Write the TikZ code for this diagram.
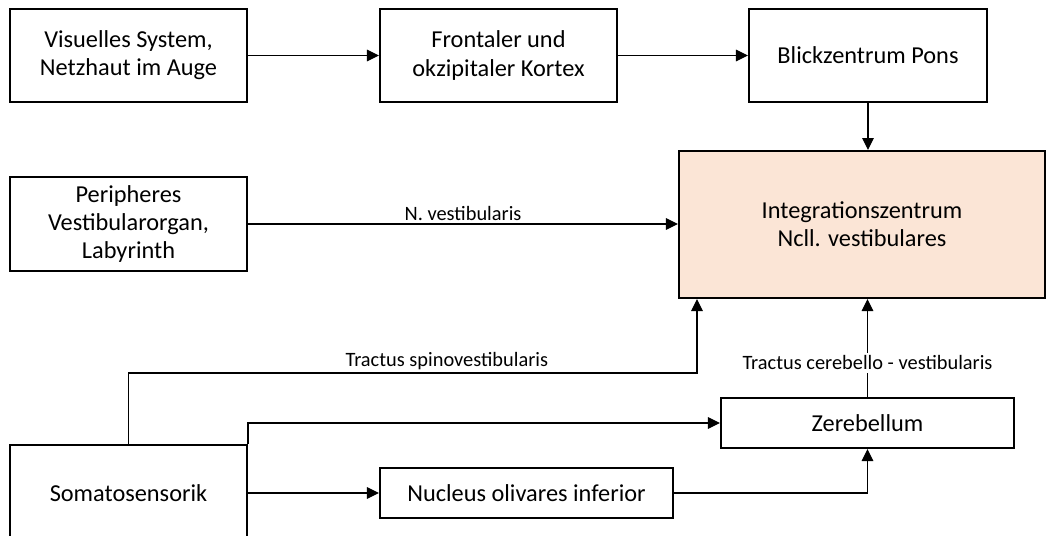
\documentclass[tikz,border=0pt]{standalone}
\usepackage{fontspec}
\setmainfont{Carlito}
\usetikzlibrary{arrows.meta}

\definecolor{peach}{HTML}{FBE5D6}

\begin{document}
\begin{tikzpicture}[x=0.025cm, y=-0.025cm,
        box/.style={draw, line width=1.4pt, align=center, inner sep=0pt,
            font=\fontsize{17.3}{20}\selectfont},
        conn/.style={line width=0.8pt, -{Triangle[length=3mm, width=2.9mm]}},
        lbl/.style={font=\fontsize{14.5}{17}\selectfont, inner sep=2pt}]
                \useasboundingbox (0,0) rectangle (1046,535);
                \clip (0,0) rectangle (1046,535);

                % Top row
                \node[box, minimum width=5.925cm, minimum height=2.325cm] (visual) at (128.5,55.5) {Visuelles System,\\Netzhaut im Auge};
                \node[box, minimum width=5.925cm, minimum height=2.325cm] (cortex) at (498.5,55.5) {Frontaler und\\okzipitaler Kortex};
                \node[box, minimum width=5.95cm, minimum height=2.325cm] (pons) at (868,55.5) {Blickzentrum Pons};

                % Integration centre
                \node[box, fill=peach, minimum width=9.15cm, minimum height=3.675cm] (integ) at (862,224.5) {Integrationszentrum\\Ncll. vestibulares};

                % Left column
                \node[box, minimum width=5.925cm, minimum height=2.35cm] (periph) at (128.5,224) {Peripheres\\Vestibularorgan,\\Labyrinth};
                \node[box, minimum width=5.925cm, minimum height=2.4cm] (soma) at (128.5,493) {Somatosensorik};

                % Bottom row
                \node[box, minimum width=7.325cm, minimum height=1.25cm] (olive) at (526.5,493) {Nucleus olivares inferior};
                \node[box, minimum width=7.325cm, minimum height=1.25cm] (cereb) at (867.5,423) {Zerebellum};

                \coordinate (spinknee) at (697,373);

                % Connectors
                \draw[conn] (visual) -- (cortex);
                \draw[conn] (cortex) -- (pons);
                \draw[conn] (pons.south) -- (pons.south |- integ.north);
                \draw[conn] (periph.east) -- node[lbl, above]{N. vestibularis} (periph.east -| integ.west);
                \draw[conn] (soma.north) |- node[lbl, above, pos=0.78]{Tractus spinovestibularis} (spinknee) -- (spinknee |- integ.south);
                \draw[conn] (cereb.north) -- node[lbl, fill=white, pos=0.35]{Tractus cerebello - vestibularis} (cereb.north |- integ.south);
                \draw[conn] (soma.north east) |- (cereb.west);
                \draw[conn] (soma.east) -- (olive.west);
                \draw[conn] (olive.east) -| (cereb.south);
            \end{tikzpicture}
\end{document}
